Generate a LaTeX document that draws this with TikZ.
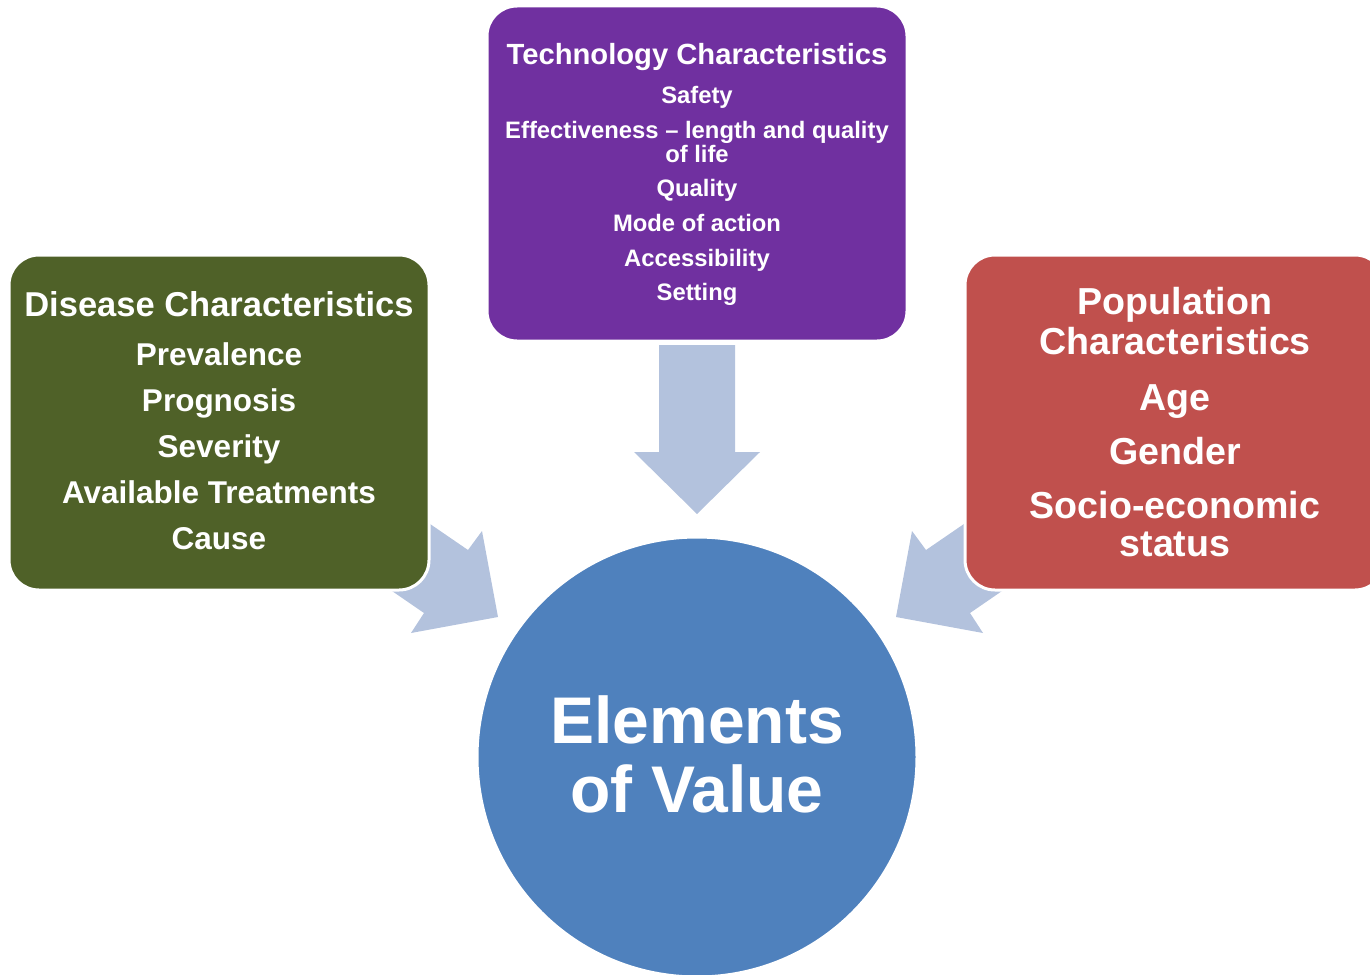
\documentclass[tikz,border=0pt]{standalone}
\usepackage{fontspec}
\setmainfont{Liberation Sans}
\definecolor{diseasegreen}{RGB}{79,97,40}
\definecolor{techpurple}{RGB}{112,48,160}
\definecolor{popred}{RGB}{192,80,77}
\definecolor{valueblue}{RGB}{79,129,189}
\definecolor{flowblue}{RGB}{179,194,221}
\begin{document}
\begin{tikzpicture}[x=1pt,y=-1pt,
  card/.style={draw=white, line width=3pt, rounded corners=30pt,
    minimum width=420pt, minimum height=335pt, inner sep=0pt},
  hub/.style={circle, draw=white, line width=3pt, fill=valueblue,
    minimum size=440pt, inner sep=0pt},
  flow/.style={fill=flowblue, draw=none},
  txt/.style={anchor=base, text=white, inner sep=0pt},
  dtitle/.style={txt, font=\bfseries\fontsize{34.5}{40}\selectfont},
  ditem/.style={txt, font=\bfseries\fontsize{31.5}{38}\selectfont},
  ttitle/.style={txt, font=\bfseries\fontsize{29.2}{34}\selectfont},
  titem/.style={txt, font=\bfseries\fontsize{23.8}{28}\selectfont},
  pitem/.style={txt, font=\bfseries\fontsize{37.6}{44}\selectfont},
  vlabel/.style={txt, font=\bfseries\fontsize{66}{70}\selectfont}]
\clip (0,0) rectangle (1370,974);

% block arrows pointing towards the hub (drawn first, boxes cover their tails)
\fill[flow] (659,345) -- (735,345) -- (735,452) -- (760,452) -- (697,514)
  -- (634,452) -- (659,452) -- cycle;
\fill[flow] (363,478) -- (468,550) -- (482,531) -- (498,617) -- (411,633)
  -- (424,613) -- (328,547) -- cycle;
\fill[flow] (1031,478) -- (926,550) -- (912,531) -- (896,617) -- (983,633)
  -- (970,613) -- (1066,547) -- cycle;

% boxes and hub
\node[card, fill=diseasegreen] (disease) at (219,422.5) {};
\node[card, fill=techpurple] (tech) at (697,173.5) {};
\node[card, fill=popred] (pop) at (1175,422.5) {};
\node[hub] (value) at (697,757) {};

% disease characteristics
\node[dtitle] (d0) at (219,316) {Disease Characteristics};
\node[ditem] (d1) at (219,365) {Prevalence};
\node[ditem] (d2) at (219,411) {Prognosis};
\node[ditem] (d3) at (219,457) {Severity};
\node[ditem] (d4) at (219,503) {Available Treatments};
\node[ditem] (d5) at (219,549) {Cause};

% technology characteristics
\node[ttitle] (t0) at (697,65) {Technology Characteristics};
\node[titem] (t1) at (697,103) {Safety};
\node[titem] (t2) at (697,138) {Effectiveness -- length and quality};
\node[titem] (t3) at (697,162) {of life};
\node[titem] (t4) at (697,196) {Quality};
\node[titem] (t5) at (697,231) {Mode of action};
\node[titem] (t6) at (697,266) {Accessibility};
\node[titem] (t7) at (697,300) {Setting};

% population characteristics
\node[pitem] (p0) at (1175,314) {Population};
\node[pitem] (p1) at (1175,354) {Characteristics};
\node[pitem] (p2) at (1175,410) {Age};
\node[pitem] (p3) at (1175,464) {Gender};
\node[pitem] (p4) at (1175,518) {Socio-economic};
\node[pitem] (p5) at (1175,556) {status};

% hub label
\node[vlabel] (v0) at (697,743) {Elements};
\node[vlabel] (v1) at (697,812) {of Value};
\end{tikzpicture}
\end{document}
